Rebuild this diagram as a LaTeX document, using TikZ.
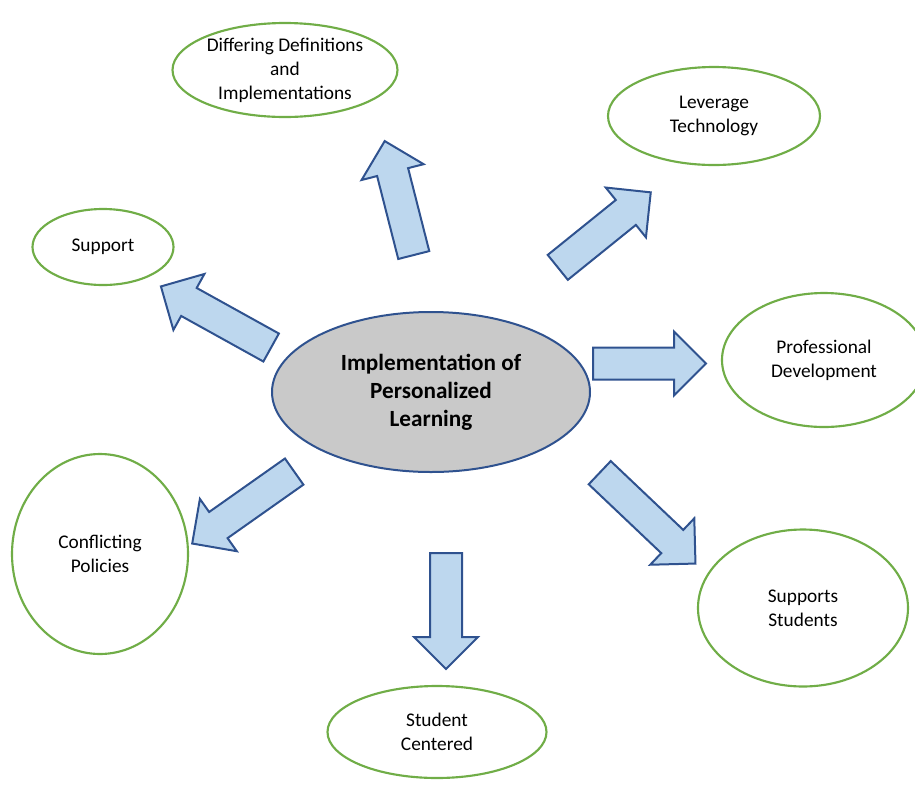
\documentclass[tikz,border=0pt]{standalone}
\usepackage{fontspec}
\setmainfont{Carlito}
\usepackage{tikz}
\usetikzlibrary{shapes.geometric,shapes.arrows}
\definecolor{leafgreen}{HTML}{70AD47}
\definecolor{arrowblue}{HTML}{2F528F}
\definecolor{arrowfill}{HTML}{BDD7EE}
\definecolor{hubgray}{HTML}{C9C9C9}

\begin{document}
\begin{tikzpicture}[x=0.75pt,y=0.75pt,yscale=-1,xscale=1,
  bubble/.style={draw=leafgreen,line width=1.6pt,ellipse,inner sep=0pt,align=center,font=\fontsize{14.5}{18}\selectfont},
  hub/.style={draw=arrowblue,fill=hubgray,line width=1.5pt,ellipse,inner sep=0pt,align=center,font=\fontsize{17.4}{21}\selectfont\bfseries},
  blockarrow/.style={single arrow,draw=arrowblue,fill=arrowfill,line width=1.5pt,inner xsep=0pt,inner ysep=11.25pt,minimum width=46.5pt,single arrow head extend=12pt,anchor=tail}]
%set diagram size
\useasboundingbox (0,0) rectangle (915,808);

%Shape: Ellipse [hub]
\node (hub) [hub,minimum width=238.5pt,minimum height=120pt] at (431,392) {Implementation of\\Personalized\\Learning};

%Shape: Ellipse [outer topics]
\node (defs) [bubble,minimum width=168.75pt,minimum height=70.5pt] at (285,70) {Differing Definitions\\and\\Implementations};
\node (tech) [bubble,minimum width=159pt,minimum height=73.5pt] at (714,116) {Leverage\\Technology};
\node (supp) [bubble,minimum width=105.75pt,minimum height=57pt] at (103,247) {Support};
\node (prof) [bubble,minimum width=153pt,minimum height=100.5pt] at (824,360) {Professional\\Development};
\node (conf) [bubble,minimum width=132pt,minimum height=150pt] at (100,554) {Conflicting\\Policies};
\node (stud) [bubble,minimum width=157.5pt,minimum height=117.75pt] at (803,608) {Supports\\Students};
\node (cent) [bubble,minimum width=164.25pt,minimum height=69pt] at (437,732) {Student\\Centered};

%Block Arrows (minimum height = tail to tip)
\node (toDefs) [blockarrow,rotate=104.3,minimum height=88.2pt] at (414,256) {};
\node (toTech) [blockarrow,rotate=38.9,minimum height=89.6pt] at (557,268) {};
\node (toSupp) [blockarrow,rotate=151,minimum height=94.5pt] at (272,348) {};
\node (toProf) [blockarrow,rotate=0,minimum height=84.75pt] at (592,363.5) {};
\node (toConf) [blockarrow,rotate=215.2,minimum height=93.6pt] at (295,471) {};
\node (toStud) [blockarrow,rotate=-43.5,minimum height=99pt] at (599,472) {};
\node (toCent) [blockarrow,rotate=-90,minimum height=87pt] at (446,552) {};
\end{tikzpicture}
\end{document}
